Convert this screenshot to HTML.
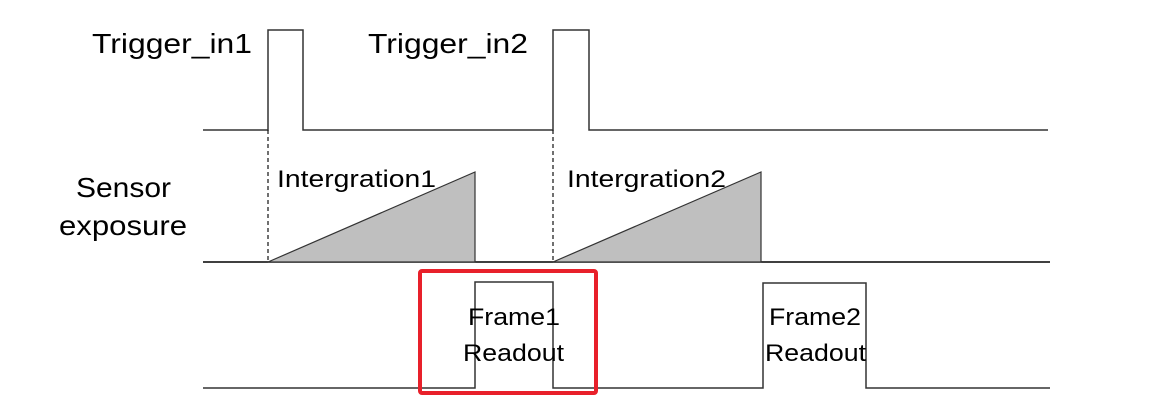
<!DOCTYPE html>
<html><head><meta charset="utf-8"><style>
html,body{margin:0;padding:0;background:#fff;width:1174px;height:403px;overflow:hidden}
text{font-family:"Liberation Sans",sans-serif;fill:#000}
</style></head><body>
<svg width="1174" height="403" viewBox="0 0 1174 403" xmlns="http://www.w3.org/2000/svg">
<g fill="none" stroke="#333" stroke-width="1.5">
<polyline points="203,130 268,130 268,30 303,30 303,130 553,130 553,30 589,30 589,130 1048,130"/>
<line x1="203" y1="262" x2="1050" y2="262" stroke="#000"/>
<polyline points="203,388 475,388 475,282 553,282 553,388 763,388 763,283 866,283 866,388 1050,388"/>
<line x1="268" y1="130" x2="268" y2="262" stroke="#111" stroke-dasharray="4,3" stroke-width="1.2"/>
<line x1="553" y1="130" x2="553" y2="262" stroke="#111" stroke-dasharray="4,3" stroke-width="1.2"/>
</g>
<polygon points="268,262 475,172 475,262" fill="#bfbfbf" stroke="#333" stroke-width="1.2"/>
<polygon points="553,262 761,172 761,262" fill="#bfbfbf" stroke="#333" stroke-width="1.2"/>
<rect x="420" y="271" width="176" height="122" rx="2" fill="none" stroke="#e8202a" stroke-width="4"/>
<text x="92" y="53" font-size="28" textLength="160" lengthAdjust="spacingAndGlyphs">Trigger_in1</text>
<text x="368" y="53" font-size="28" textLength="160" lengthAdjust="spacingAndGlyphs">Trigger_in2</text>
<text x="76" y="197" font-size="28" textLength="95" lengthAdjust="spacingAndGlyphs">Sensor</text>
<text x="59" y="235" font-size="28" textLength="128" lengthAdjust="spacingAndGlyphs">exposure</text>
<text x="277" y="187" font-size="24" textLength="159" lengthAdjust="spacingAndGlyphs">Intergration1</text>
<text x="567" y="187" font-size="24" textLength="159" lengthAdjust="spacingAndGlyphs">Intergration2</text>
<text x="468" y="325" font-size="24" textLength="92" lengthAdjust="spacingAndGlyphs">Frame1</text>
<text x="463" y="361" font-size="24" textLength="101" lengthAdjust="spacingAndGlyphs">Readout</text>
<text x="769" y="325" font-size="24" textLength="92" lengthAdjust="spacingAndGlyphs">Frame2</text>
<text x="765" y="361" font-size="24" textLength="101" lengthAdjust="spacingAndGlyphs">Readout</text>
</svg>
</body></html>
